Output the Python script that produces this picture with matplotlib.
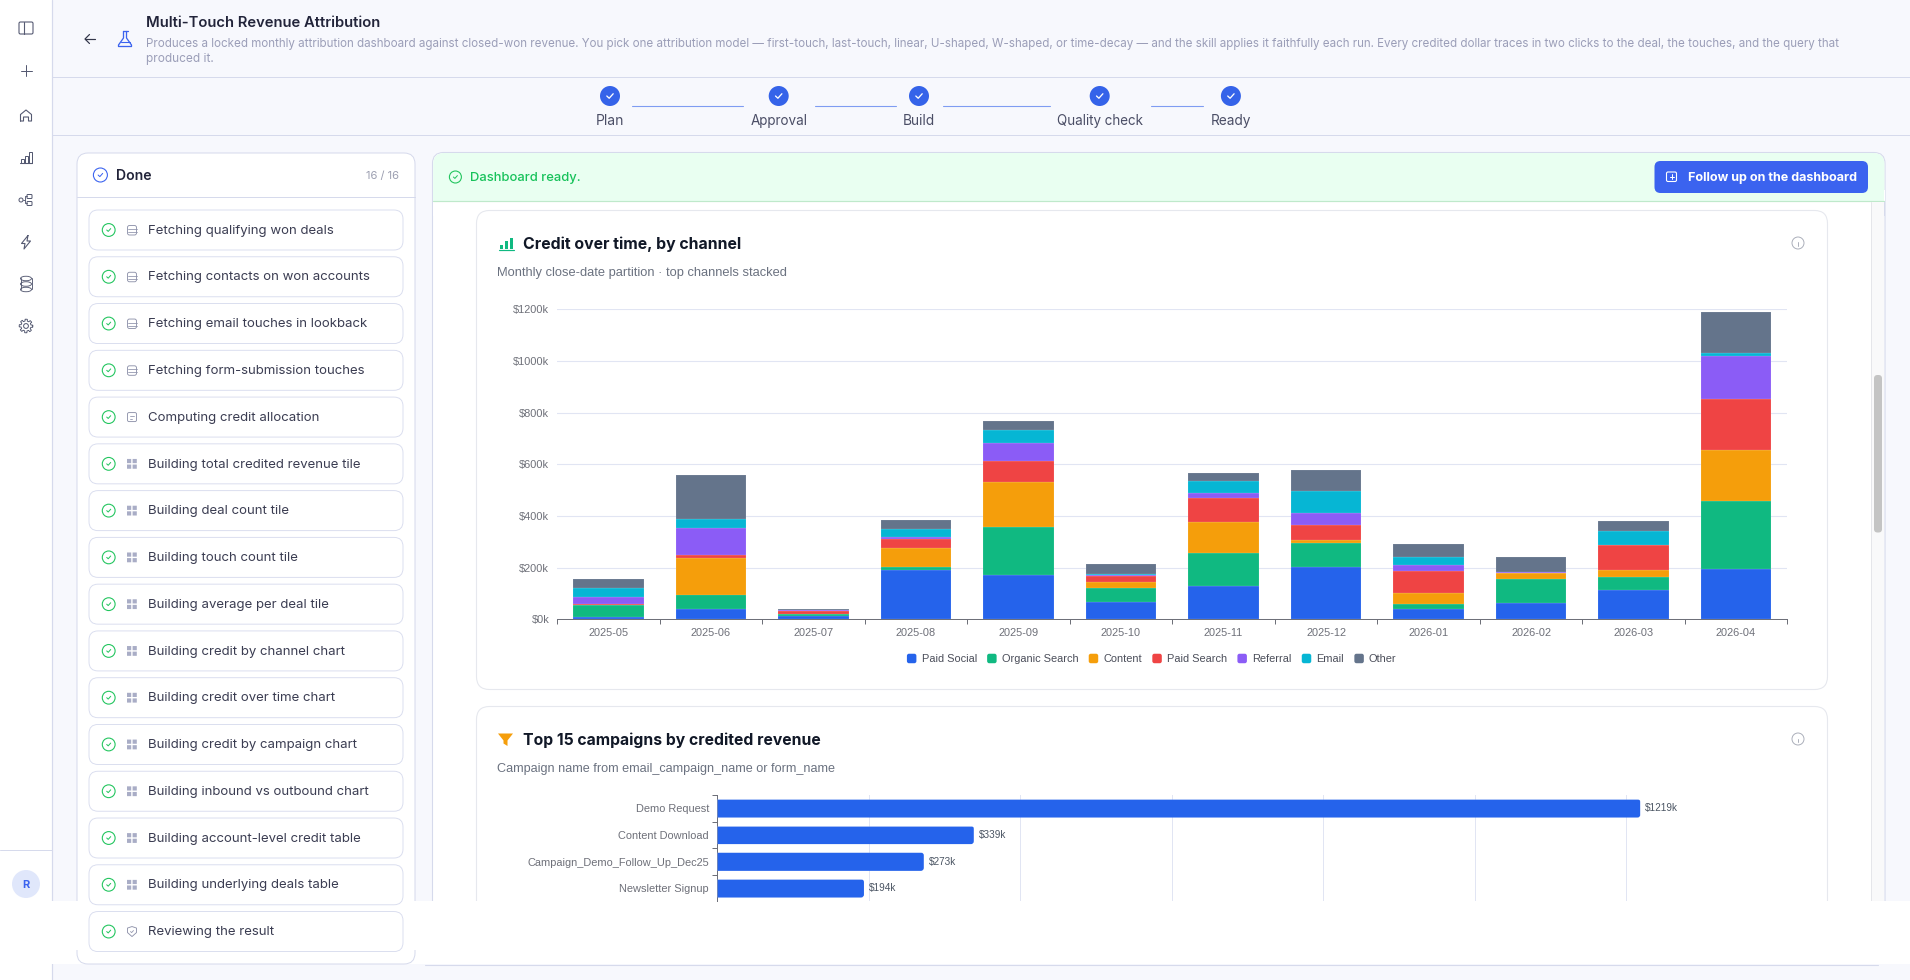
import matplotlib
matplotlib.use("Agg")
import matplotlib.pyplot as plt
import matplotlib.transforms as mtrans
import numpy as np
from matplotlib.patches import FancyBboxPatch, Rectangle, Circle, Ellipse, Polygon, Patch
from matplotlib.legend_handler import HandlerPatch
from matplotlib.textpath import TextPath
from matplotlib.font_manager import FontProperties

# ---------- data ----------
months = ["2025-05", "2025-06", "2025-07", "2025-08", "2025-09", "2025-10",
          "2025-11", "2025-12", "2026-01", "2026-02", "2026-03", "2026-04"]
paid_social    = [10, 41, 14, 190, 173, 68, 128, 201, 40, 64, 112, 196]
organic_search = [46, 55, 5, 13, 184, 54, 129, 95, 21, 92, 53, 263]
content        = [1, 142, 1, 73, 174, 24, 119, 10, 40, 22, 24, 195]
paid_search    = [1, 9, 14, 36, 83, 22, 92, 59, 86, 1, 97, 197]
referral       = [28, 108, 2, 6, 70, 4, 21, 48, 25, 4, 0, 169]
email          = [34, 35, 1, 31, 48, 3, 46, 83, 30, 1, 57, 12]
other          = [36, 168, 3, 35, 35, 39, 31, 81, 48, 59, 36, 156]
channel_names  = ["Paid Social", "Organic Search", "Content", "Paid Search",
                  "Referral", "Email", "Other"]
channel_series = [paid_social, organic_search, content, paid_search, referral, email, other]
channel_colors = ["#2563eb", "#10b981", "#f59e0b", "#ef4444", "#8b5cf6", "#06b6d4", "#64748b"]
y_ticks = [0, 200, 400, 600, 800, 1000, 1200]

campaigns = ["Demo Request", "Content Download", "Campaign_Demo_Follow_Up_Dec25", "Newsletter Signup"]
campaign_values = [1219, 339, 273, 194]
campaign_grid = [200, 400, 600, 800, 1000, 1200, 1400]

steps = ["Plan", "Approval", "Build", "Quality check", "Ready"]
tasks = ["Fetching qualifying won deals", "Fetching contacts on won accounts",
         "Fetching email touches in lookback", "Fetching form-submission touches",
         "Computing credit allocation", "Building total credited revenue tile",
         "Building deal count tile", "Building touch count tile",
         "Building average per deal tile", "Building credit by channel chart",
         "Building credit over time chart", "Building credit by campaign chart",
         "Building inbound vs outbound chart", "Building account-level credit table",
         "Building underlying deals table", "Reviewing the result"]
task_icons = ["db", "db", "db", "db", "fx"] + ["grid"] * 10 + ["shield"]

description = ("Produces a locked monthly attribution dashboard against closed-won revenue. "
               "You pick one attribution model \u2014 first-touch, last-touch, linear, U-shaped, "
               "W-shaped, or time-decay \u2014 and the skill applies it faithfully each run. "
               "Every credited dollar traces in two clicks to the deal, the touches, and the query that")

# ---------- figure and pixel helpers ----------
W, H = 1910, 980
fig = plt.figure(figsize=(W / 100, H / 100), dpi=100, facecolor="#f7f8fd")
ui = fig.add_axes([0, 0, 1, 1], zorder=0)
ui.set_xlim(0, W)
ui.set_ylim(H, 0)
ui.axis("off")
PX = 0.72
UI_FONT = "Inter"
CH_FONT = "Liberation Sans"


def box(x0, y0, x1, y1, r=0, fc="white", ec="none", lw=1.0, z=1):
    if r:
        p = FancyBboxPatch((x0, y0), x1 - x0, y1 - y0,
                           boxstyle=f"round,pad=0,rounding_size={r}",
                           fc=fc, ec=ec, lw=lw * PX, zorder=z)
    else:
        p = Rectangle((x0, y0), x1 - x0, y1 - y0, fc=fc, ec=ec, lw=lw * PX, zorder=z)
    ui.add_patch(p)
    return p


def line(xs, ys, c="#d6daec", lw=1.0, z=2):
    ui.plot(xs, ys, color=c, lw=lw * PX, zorder=z, solid_capstyle="round", solid_joinstyle="round")


def text(x, y, s, px=13, c="#333", w=None, weight="normal", ha="left", family=UI_FONT, z=5):
    if w is not None:
        fp = FontProperties(family=family, weight=weight)
        tw = TextPath((0, 0), s, size=px, prop=fp).get_extents().width
        px = px * w / tw
    ui.text(x, y, s, fontsize=px * PX, color=c, weight=weight, ha=ha, va="center_baseline",
            family=family, zorder=z)


def circ(x, y, r, fc="none", ec="none", lw=1.0, z=4):
    ui.add_patch(Circle((x, y), r, fc=fc, ec=ec, lw=lw * PX, zorder=z))


def check(x, y, s, c, lw=1.2, z=6):
    line([x - s, x - s * 0.25, x + s], [y, y + s * 0.7, y - s * 0.7], c=c, lw=lw, z=z)


# ---------- page chrome ----------
box(0, 0, 52, H, fc="white", z=0.5)
line([52, 52], [0, H], c="#d6daec", lw=1.2)
line([52, W], [77.5, 77.5])
line([52, W], [135.5, 135.5])
line([0, 52], [849.5, 849.5])

ICON = "#555a72"
# sidebar toggle
box(19, 22, 33, 34, r=1.5, fc="none", ec=ICON, lw=1.1, z=3)
line([23.5, 23.5], [22, 34], c=ICON, lw=1.1, z=3)
# plus
line([20.5, 31.5], [71, 71], c=ICON, lw=1.0)
line([26, 26], [65.5, 76.5], c=ICON, lw=1.0)
# home
line([20.5, 20.5, 26, 31.5, 31.5, 28.5, 28.5, 23.5, 23.5, 20.5],
     [121, 114.5, 110, 114.5, 121, 121, 117, 117, 121, 121], c=ICON, lw=1.1)
# chart
line([20, 32], [163.5, 163.5], c=ICON, lw=1.1)
for bx, bt in zip([21, 24.8, 28.6], [159, 156, 152.5]):
    box(bx, bt, bx + 3.4, 163.5, fc="none", ec=ICON, lw=1.0, z=3)
# branch
circ(21, 200, 2, ec=ICON, lw=1.0)
box(27, 194.5, 32, 198.5, r=0.8, fc="none", ec=ICON, lw=1.0, z=3)
box(27, 201.5, 32, 205.5, r=0.8, fc="none", ec=ICON, lw=1.0, z=3)
line([23, 25, 25, 27], [200, 200, 196.5, 196.5], c=ICON, lw=0.9)
line([25, 25, 27], [200, 203.5, 203.5], c=ICON, lw=0.9)
# bolt
line([28, 21.5, 25, 24, 30.5, 27, 28], [235.5, 243.5, 243.5, 249, 241, 241, 235.5], c=ICON, lw=1.1)
# database
for yy in (278.5, 284, 289.5):
    ui.add_patch(Ellipse((26, yy), 11, 4.5, fc="none", ec=ICON, lw=0.9 * PX, zorder=3))
line([20.5, 20.5], [278.5, 289.5], c=ICON, lw=0.9)
line([31.5, 31.5], [278.5, 289.5], c=ICON, lw=0.9)
# gear
circ(26, 326, 2.4, ec=ICON, lw=1.0)
_a = np.linspace(0, 2 * np.pi, 97)
_r = 5.9 + 0.9 * np.sign(np.cos(8 * _a))
line(26 + _r * np.cos(_a), 326 + _r * np.sin(_a), c=ICON, lw=0.9)
# avatar
circ(26, 884, 14, fc="#e0e7fb")
text(26, 884, "R", px=11, c="#3b63ef", weight="bold", ha="center")

# header
line([85, 95], [39, 39], c="#33364a", lw=1.2)
line([89.5, 85, 89.5], [34.5, 39, 43.5], c="#33364a", lw=1.2)
FL = "#3b63ef"
line([122.5, 127.5], [31.5, 31.5], c=FL, lw=1.3)
line([123.5, 123.5, 118.5, 118.5, 131.5, 131.5, 126.5, 126.5],
     [31.5, 38, 45, 46.5, 46.5, 45, 38, 31.5], c=FL, lw=1.3)
line([120.5, 129.5], [42, 42], c=FL, lw=1.1)
text(146, 21.5, "Multi-Touch Revenue Attribution", px=14, c="#22243a", w=232, weight="semibold")
text(146, 42.5, description, px=11.5, c="#9b9eb8", w=1690)
text(146, 57.5, "produced it.", px=11.5, c="#9b9eb8", w=66)

# stepper
step_x = [610, 778.7, 919, 1099.7, 1230.9]
step_w = [26, 56, 30, 85.6, 39]
for sx, s, sw in zip(step_x, steps, step_w):
    circ(sx, 96, 10, fc="#3563e9")
    check(sx, 96, 3.2, "white", lw=1.3)
    text(sx, 119.5, s, px=12.5, c="#4b4e66", w=sw, ha="center")
for a, b in [(632, 743), (815, 896), (943, 1050), (1150.6, 1203)]:
    line([a, b], [106.5, 106.5], c="#7f9cf2", lw=1.1)

# right panel
box(432.5, 152.5, 1885, 940, r=11, fc="white", ec="#d6daec", lw=1.1, z=1)
box(1871, 201, 1884.3, 910, fc="#f9f9fa", z=1.1)
line([1871, 1871], [201, 910], c="#e5e6ea", lw=1.0, z=1.2)
box(1874, 375, 1882, 532.5, r=3.5, fc="#c4c4c4", z=1.3)
# green banner
box(433.2, 153, 1884.4, 215, r=11, fc="#e9fff1", z=1.4)
box(433, 190, 1885, 216, fc="white", z=1.45)
box(433.2, 190, 1884.4, 201, fc="#e9fff1", z=1.5)
line([433.2, 1884.4], [201.5, 201.5], c="#bfe9cb", lw=1.2, z=1.6)
box(1871, 202, 1884.3, 216, fc="#f9f9fa", z=1.6)
line([1871, 1871], [202, 216], c="#e5e6ea", lw=1.0, z=1.7)
box(432.6, 202, 433.4, 216, fc="#d6daec", z=1.6)
box(1884.4, 202, 1885.2, 216, fc="#d6daec", z=1.6)
box(1654.5, 161, 1868, 193, r=6, fc="#3b63ef", z=3)
box(1666.5, 172, 1676.5, 181.5, r=1.5, fc="none", ec="white", lw=1.1, z=4)
line([1671.5, 1671.5], [174.5, 179], c="white", lw=1.0, z=4)
line([1669.5, 1673.5], [176.7, 176.7], c="white", lw=1.0, z=4)
text(1687.7, 176.7, "Follow up on the dashboard", px=12, c="white", w=168, weight="bold")
circ(455.4, 177, 6, ec="#22c55e", lw=1.1)
check(455.4, 177, 2, "#22c55e", lw=1.0)
text(470, 176.7, "Dashboard ready.", px=12, c="#16c25a", w=108.5, weight="medium")

# cards
CARD = "#e6e8ee"
box(476.5, 210.5, 1827.5, 689.5, r=13, fc="white", ec=CARD, lw=1.1, z=2)
box(476.5, 706.5, 1827.5, 940, r=13, fc="white", ec=CARD, lw=1.1, z=2)
for bx, bt in zip([499.5, 504.5, 509.5], [244.5, 241, 237.5]):
    box(bx, bt, bx + 3.4, 249, fc="#10b981", z=3)
line([498.5, 514], [250, 250], c="#10b981", lw=1.2, z=3)
ui.add_patch(Polygon([[498, 733.5], [513, 733.5], [507.5, 740.5], [507.5, 746], [503.5, 743.5], [503.5, 740.5]],
                     fc="#f59e0b", ec="none", zorder=3))
text(522.8, 242.6, "Credit over time, by channel", px=16, c="#111827", w=217, weight="bold")
text(497, 271.7, "Monthly close-date partition \u00b7 top channels stacked", px=12, c="#6b7280", w=287, family=CH_FONT)
text(523, 739, "Top 15 campaigns by credited revenue", px=16, c="#111827", w=296, weight="bold")
text(496.7, 767.7, "Campaign name from email_campaign_name or form_name", px=12, c="#6b7280", w=336, family=CH_FONT)
for iy in (243, 739):
    circ(1798, iy, 6, ec="#a5a9b5", lw=0.9)
    line([1798, 1798], [iy - 0.5, iy + 3], c="#a5a9b5", lw=0.9, z=5)
    line([1798, 1798], [iy - 2.8, iy - 2.6], c="#a5a9b5", lw=1.0, z=5)

# white strip over the bottom of the panels
box(0, 901, W, 964, fc="white", z=3.5)
line([425, 1878], [964.5, 964.5], c="#d6daec", lw=1.1, z=3.6)

# left panel
lp = box(77, 153, 415, 915, r=11, fc="white", ec="#d6daec", lw=1.0, z=3.4)
box(77, 930, 415, 964, r=11, fc="white", ec="#d6daec", lw=1.0, z=3.7)
box(76, 901, 416, 950, fc="white", z=3.8)
line([77, 415], [197.5, 197.5], z=4)
circ(100.4, 175, 7, ec="#3b63ef", lw=1.1)
check(100.4, 175, 2.3, "#3b63ef", lw=1.0)
text(116, 174, "Done", px=14, c="#22243a", w=34, weight="semibold")
text(398.6, 175, "16 / 16", px=11, c="#9b9eb0", w=32, ha="right")

GR = "#8f93ab"
for i, (t, ic) in enumerate(zip(tasks, task_icons)):
    cy = 230 + 46.77 * i
    box(89, cy - 20, 403, cy + 20, r=9, fc="white", ec="#d8dcee", lw=0.9, z=4)
    circ(108.7, cy, 6.4, ec="#22c55e", lw=1.1, z=5)
    check(108.7, cy, 2, "#22c55e", lw=1.0)
    if ic == "db":
        box(127.5, cy - 4.5, 136.5, cy + 5, r=2, fc="none", ec=GR, lw=0.9, z=5)
        line([127.5, 136.5], [cy - 1, cy - 1], c=GR, lw=0.8, z=5)
        line([127.5, 136.5], [cy + 2, cy + 2], c=GR, lw=0.8, z=5)
    elif ic == "fx":
        box(127.5, cy - 4.5, 136.5, cy + 4.5, r=1.5, fc="none", ec=GR, lw=0.9, z=5)
        line([130, 133.5], [cy - 1.5, cy - 1.5], c=GR, lw=0.8, z=5)
        line([130, 132], [cy + 1.5, cy + 1.5], c=GR, lw=0.8, z=5)
    elif ic == "grid":
        for gx in (127, 132.6):
            for gy in (cy - 4.9, cy + 0.7):
                box(gx, gy, gx + 4.2, gy + 4.2, fc="#a9adc6", z=5).set_snap(False)
    else:
        ui.add_patch(Polygon([[132, cy - 5], [136.5, cy - 3.5], [136.5, cy + 1], [132, cy + 5], [127.5, cy + 1], [127.5, cy - 3.5]],
                             fc="none", ec=GR, lw=0.9 * PX, zorder=5))
        check(132, cy, 1.5, GR, lw=0.8)
    text(148, cy - 0.8, t, px=13.2, c="#3b3d52")


# ---------- charts ----------
def axes_px(l, t, r, b, z):
    return fig.add_axes([l / W, 1 - b / H, (r - l) / W, (b - t) / H], zorder=z)


GRID = "#e1e5f3"
AXC = "#6e7079"
TXT = "#6e7079"

ax = axes_px(557.2, 309.3, 1787.3, 619.3, 2)
ax.patch.set_alpha(0)
x = np.arange(len(months))
bottom = np.zeros(len(months))
for name, vals, col in zip(channel_names, channel_series, channel_colors):
    ax.bar(x, vals, width=0.69, bottom=bottom, color=col, label=name,
           edgecolor=(1, 1, 1, 0.3), linewidth=0.3, zorder=3)
    bottom += np.array(vals)
ax.set_xlim(-0.5, 11.5)
ax.set_ylim(0, 1200)
ax.set_yticks(y_ticks, [f"${v}k" for v in y_ticks], family=CH_FONT, fontsize=11 * PX, color=TXT)
up_one = mtrans.ScaledTranslation(0, 1 / 100, fig.dpi_scale_trans)
for lab in ax.get_yticklabels():
    lab.set_transform(lab.get_transform() + up_one)
ax.set_xticks(x, months, family=CH_FONT, fontsize=11 * PX, color=TXT)
ax.set_xticks(np.arange(-0.5, 12, 1), minor=True)
ax.tick_params(axis="y", length=0, pad=8 * PX)
ax.tick_params(axis="x", which="major", length=0, pad=8.5 * PX)
ax.tick_params(axis="x", which="minor", length=4.5 * PX, width=1 * PX, color=AXC)
ax.grid(axis="y", color=GRID, lw=1.1 * PX, zorder=0)
ax.set_axisbelow(True)
for sp in ("top", "right", "left"):
    ax.spines[sp].set_visible(False)
ax.spines["bottom"].set_color(AXC)
ax.spines["bottom"].set_linewidth(1 * PX)


class RoundSwatch(HandlerPatch):
    def create_artists(self, legend, orig, xd, yd, w, h, fs, trans):
        s = min(w, h)
        p = FancyBboxPatch((xd * -1 + (w - s) / 2, yd * -1 + (h - s) / 2), s, s,
                           boxstyle=f"round,pad=0,rounding_size={s * 0.22}",
                           fc=orig.get_facecolor(), ec="none", transform=trans)
        return [p]


handles = [Patch(facecolor=c, label=n) for n, c in zip(channel_names, channel_colors)]
leg = ax.legend(handles=handles, ncol=7, loc="center", frameon=False,
                bbox_to_anchor=(1151.5 / W, 1 - 659 / H), bbox_transform=fig.transFigure,
                prop=dict(family=CH_FONT, size=11 * PX), labelcolor="#4b4e5a",
                handlelength=0.95, handleheight=0.95, handletextpad=0.42, columnspacing=0.9,
                borderpad=0, handler_map={Patch: RoundSwatch()})

ax2 = axes_px(717, 795, 1777.5, 901, 2)
ax2.patch.set_alpha(0)
ypos = np.arange(len(campaigns))
bars = ax2.barh(ypos, campaign_values, height=0.69, color="#2563eb",
                edgecolor=(1, 1, 1, 0.25), linewidth=0.5, zorder=3)
ax2.set_xlim(0, 1400)
ax2.set_ylim(3.475, -0.5)
ax2.set_xticks(campaign_grid, [""] * len(campaign_grid))
ax2.tick_params(axis="x", length=0)
ax2.set_yticks(ypos, campaigns, family=CH_FONT, fontsize=11 * PX, color=TXT)
ax2.set_yticks(np.arange(-0.5, 3.5, 1), minor=True)
ax2.tick_params(axis="y", which="major", length=0, pad=8 * PX)
ax2.tick_params(axis="y", which="minor", length=5 * PX, width=1 * PX, color=AXC)
ax2.grid(axis="x", color=GRID, lw=1 * PX, zorder=0)
ax2.set_axisbelow(True)
for sp in ("top", "right", "bottom"):
    ax2.spines[sp].set_visible(False)
ax2.spines["left"].set_color(AXC)
ax2.spines["left"].set_linewidth(1 * PX)
ax2.bar_label(bars, labels=[f"${v}k" for v in campaign_values], padding=5 * PX,
              family=CH_FONT, fontsize=10 * PX, color="#4b5563")
# rounded right ends of the bars
rx = 3 / (1060.5 / 1400)
ry = 3 / 26.67
for r in bars:
    rounded = FancyBboxPatch((r.get_x() - 3 * rx, r.get_y()), r.get_width() + 3 * rx, r.get_height(),
                             boxstyle=f"round,pad=0,rounding_size={rx}",
                             mutation_aspect=ry / rx, transform=ax2.transData)
    r.set_clip_path(rounded)

fig.savefig("out.png", dpi=100, facecolor=fig.get_facecolor())
